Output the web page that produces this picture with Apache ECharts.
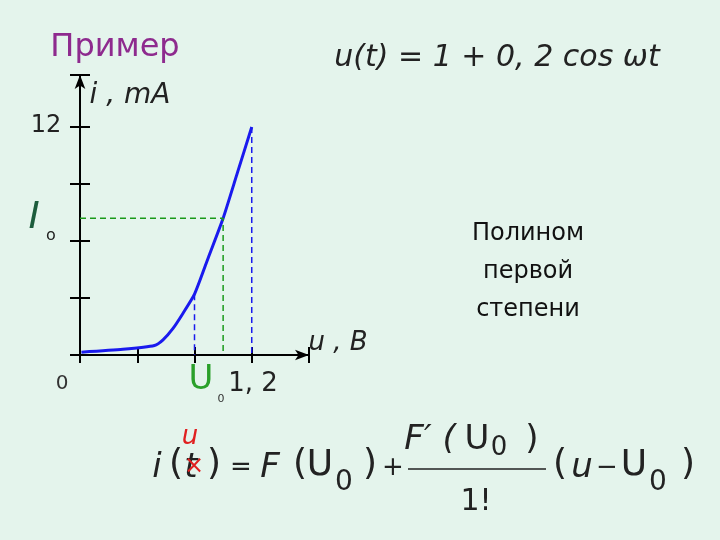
<!DOCTYPE html>
<html><head><meta charset="utf-8">
<script src="https://cdn.jsdelivr.net/npm/echarts@6/dist/echarts.min.js"></script>
<style>html,body{margin:0;background:#e4f4ec}#main{width:720px;height:540px}</style>
</head><body><div id="main"></div>
<script>
// характеристика i(u)
var voltage = [0.01, 0.3, 0.52, 0.58, 0.65, 0.72, 0.8, 0.9, 1.0, 1.1, 1.2];
var current = [0.15, 0.3, 0.5, 0.8, 1.4, 2.2, 3.2, 5.2, 7.2, 9.6, 12];
var U0 = 1.0, I0 = 7.2;

var chart = echarts.init(document.getElementById('main'));
var ff = 'DejaVu Sans';
function txt(x, y, s, size, color, extra) {
  return {type: 'text', style: {text: s, x: x, y: y, align: 'center', verticalAlign: 'middle',
    font: (extra || '') + ' ' + size + 'px "' + ff + '"', fill: color}};
}
var axisCommon = {
  min: 0, axisLabel: {show: false}, splitLine: {show: false},
  axisLine: {lineStyle: {color: '#000', width: 2}}
};
var arrowLine = {lineStyle: {color: '#000', width: 2}, symbol: ['none', 'arrow'], symbolSize: [8, 14]};
chart.setOption({
  backgroundColor: '#e4f4ec',
  grid: {left: 80, top: 75, width: 229, height: 280},
  xAxis: [
    {type: 'value', min: 0, max: 1.6, interval: 0.4, axisLabel: {show: false}, splitLine: {show: false},
      axisLine: arrowLine, axisTick: {length: 8, lineStyle: {color: '#000', width: 2}}},
    Object.assign({type: 'value', max: 1.6, interval: 0.4, position: 'bottom',
      axisTick: {inside: true, length: 8, lineStyle: {color: '#000', width: 2}}}, axisCommon)
  ],
  yAxis: [
    {type: 'value', min: 0, max: 14.74, interval: 3, axisLabel: {show: false}, splitLine: {show: false},
      axisLine: arrowLine, axisTick: {length: 10, lineStyle: {color: '#000', width: 2}}},
    Object.assign({type: 'value', max: 14.74, interval: 3, position: 'left',
      axisTick: {inside: true, length: 10, lineStyle: {color: '#000', width: 2}}}, axisCommon)
  ],
  series: [
    {type: 'line', data: voltage.map(function (v, i) { return [v, current[i]]; }),
      smooth: 0.2, symbol: 'none', lineStyle: {color: '#1a1aee', width: 3}},
    {type: 'line', data: [[0, I0], [U0, I0], [U0, 0]], symbol: 'none',
      lineStyle: {color: '#1a9a1a', width: 1.5, type: [6, 4]}},
    {type: 'line', data: [[0.8, 3.2], [0.8, 0]], symbol: 'none',
      lineStyle: {color: '#1a1aee', width: 1.5, type: [6, 4]}},
    {type: 'line', data: [[1.2, 12], [1.2, 0]], symbol: 'none',
      lineStyle: {color: '#1a1aee', width: 1.5, type: [6, 4]}}
  ],
  graphic: [
    txt(115, 48, 'Пример', 32, '#8e2a8e'),
    txt(130, 96, 'i , mA', 28, '#222', 'italic'),
    txt(46, 126, '12', 24, '#222'),
    txt(34, 218, 'I', 38, '#1c5c3c', 'italic'),
    txt(51, 236, 'o', 16, '#222'),
    txt(62, 384, '0', 20, '#333'),
    txt(338, 343, 'u , B', 26, '#222', 'italic'),
    txt(201, 380, 'U', 34, '#2aa02a'),
    txt(221, 399, '0', 11, '#333'),
    txt(253, 384, '1, 2', 26, '#222'),
    txt(497, 58, 'u(t) = 1 + 0, 2 cos ωt', 30, '#222', 'italic'),
    {type: 'text', style: {text: 'Полином\nпервой\nстепени', x: 528, y: 272, align: 'center', verticalAlign: 'middle',
      font: '24px "' + ff + '"', lineHeight: 38, fill: '#111'}},
    // i(t) = F(U0) + F'(U0)/1! (u - U0)
    txt(157, 468, 'i', 34, '#222', 'italic'),
    txt(176, 465, '(', 36, '#222'),
    txt(191, 468, 't', 34, '#222', 'italic'),
    txt(214, 465, ')', 36, '#222'),
    txt(241, 468, '=', 26, '#222'),
    txt(270, 468, 'F', 34, '#222', 'italic'),
    txt(300, 465, '(', 36, '#222'),
    txt(320, 466, 'U', 36, '#222'),
    txt(344, 483, '0', 28, '#222'),
    txt(370, 465, ')', 36, '#222'),
    txt(393, 468, '+', 26, '#222'),
    txt(430, 440, 'F′ (', 34, '#222', 'italic'),
    txt(477, 440, 'U', 34, '#222'),
    txt(499, 448, '0', 26, '#222'),
    txt(532, 440, ')', 34, '#222'),
    {type: 'line', shape: {x1: 408, y1: 469, x2: 546, y2: 469}, style: {stroke: '#222', lineWidth: 1.5}},
    txt(476, 502, '1!', 30, '#222'),
    txt(560, 465, '(', 36, '#222'),
    txt(582, 468, 'u', 34, '#222', 'italic'),
    txt(607, 468, '−', 26, '#222'),
    txt(634, 466, 'U', 36, '#222'),
    txt(658, 483, '0', 28, '#222'),
    txt(688, 465, ')', 36, '#222'),
    txt(190, 437, 'u', 26, '#e02020', 'italic'),
    txt(194, 467, '×', 24, '#e02020')
  ]
});
</script></body></html>
